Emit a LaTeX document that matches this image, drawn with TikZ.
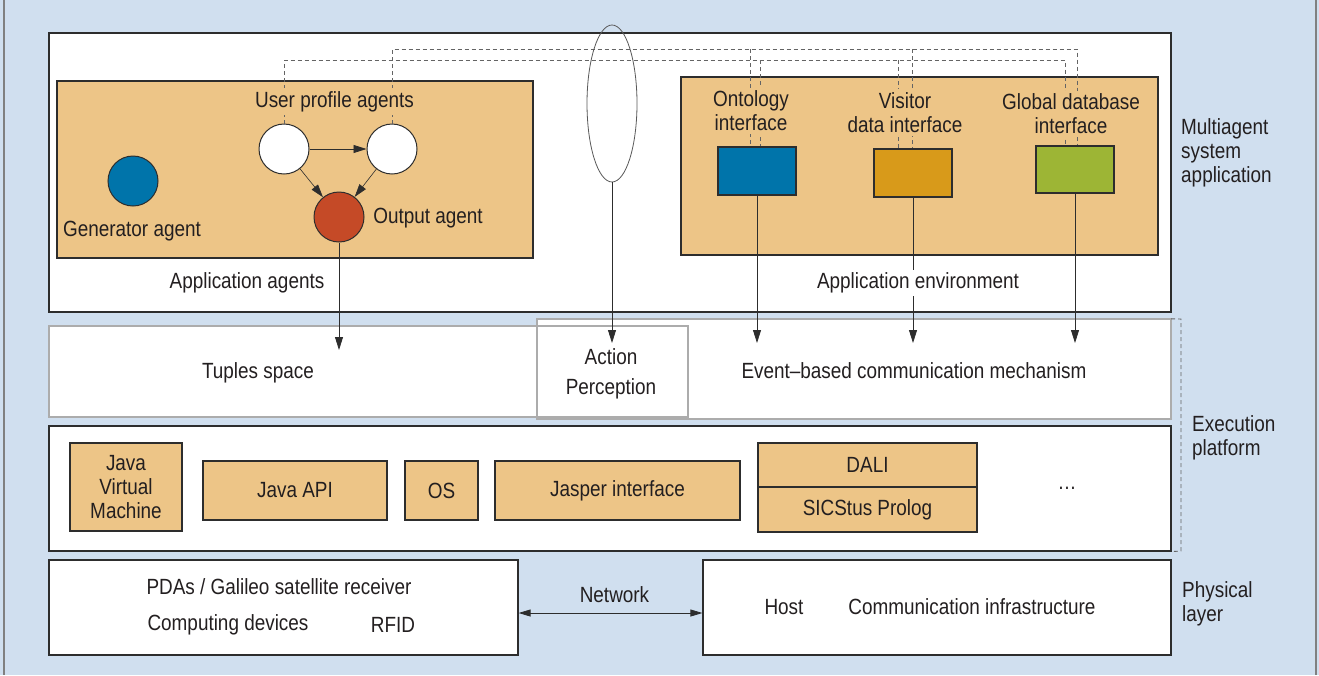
\documentclass[tikz,border=0pt]{standalone}
\usepackage{fontspec}
\setmainfont{Liberation Sans}[FakeStretch=0.86]
\usetikzlibrary{arrows.meta,shapes.geometric,calc}
\definecolor{bgblue}{RGB}{208,223,239}
\definecolor{tanc}{RGB}{237,197,135}
\definecolor{ontc}{RGB}{0,116,170}
\definecolor{redc}{RGB}{197,74,39}
\definecolor{visc}{RGB}{216,154,26}
\definecolor{grnc}{RGB}{157,181,53}
\definecolor{txt}{RGB}{35,31,32}
\definecolor{dark}{RGB}{45,45,45}
\definecolor{midgrey}{RGB}{172,172,172}
\definecolor{dashgrey}{RGB}{100,100,100}
\begin{document}
\begin{tikzpicture}[x=1pt,y=-1pt,
  every node/.style={font=\fontsize{22}{24}\selectfont, text=txt, inner sep=0pt},
  layerbox/.style={draw=dark, line width=1.2pt, fill=white, rectangle},
  midbox/.style={draw=none, fill=white, rectangle},
  midline/.style={draw=midgrey, line width=1.5pt},
  tanbox/.style={draw=dark, line width=1.2pt, fill=tanc, rectangle},
  colbox/.style={draw=dark, line width=1.2pt, rectangle, minimum width=78pt, minimum height=48pt},
  agent/.style={circle, draw=dark, line width=1pt, minimum size=50pt},
  dashline/.style={draw=dashgrey, line width=0.9pt, dash pattern=on 4pt off 3pt},
  arr/.style={draw=dark, line width=0.8pt, -{Triangle[length=13pt,width=8pt]}},
  darr/.style={draw=dark, line width=0.8pt, {Triangle[length=12pt,width=7pt]}-{Triangle[length=12pt,width=7pt]}},
  lab/.style={align=center},
  masktan/.style={align=center, fill=tanc, inner sep=3pt},
  maskwhite/.style={align=center, fill=white, inner sep=3pt}
]
\useasboundingbox (0,0) rectangle (1319,675);
\fill[bgblue] (0,0) rectangle (1319,675);
\draw[draw=gray, line width=1.2pt] (4,0) -- (4,675);
\draw[draw=gray, line width=1.2pt] (1316,0) -- (1316,675);

% ---------- Multiagent system application layer ----------
\node[layerbox, minimum width=1122pt, minimum height=279pt] (mas) at (610,172.5) {};
\node[tanbox, minimum width=476pt, minimum height=177pt] (agbox) at (295,169.5) {};
\node[tanbox, minimum width=477pt, minimum height=178pt] (envbox) at (919.5,166) {};

% interface boxes
\node[colbox, fill=ontc] (ont) at (757,171) {};
\node[colbox, fill=visc] (vis) at (913,173) {};
\node[colbox, fill=grnc, minimum height=47pt] (glob) at (1075,169.5) {};

% agents
\node[agent, fill=white] (upL) at (284,149) {};
\node[agent, fill=white] (upR) at (392,149) {};
\node[agent, fill=redc] (outA) at (339,217) {};
\node[agent, fill=ontc] (gen) at (133,181) {};

% dashed links
\coordinate (u0) at (392,49);
\coordinate (u3) at (1077,49);
\coordinate (uA) at (750,49);
\coordinate (uB) at (912,49);
\coordinate (l0) at (284,60);
\coordinate (l3) at (1065,60);
\coordinate (lA) at (760,60);
\coordinate (lB) at (898,60);
\draw[dashline] (upR.north) -- (u0) -- (u3) -- (u3 |- glob.north);
\draw[dashline] (uA) -- (uA |- ont.north);
\draw[dashline] (uB) -- (uB |- vis.north);
\draw[dashline] (upL.north) -- (l0) -- (l3) -- (l3 |- glob.north);
\draw[dashline] (lA) -- (lA |- ont.north);
\draw[dashline] (lB) -- (lB |- vis.north);

% ellipse
\node[ellipse, draw=gray!70!black, line width=0.8pt, minimum width=50pt, minimum height=157pt] (ell) at (612,103.5) {};

% labels in top layer
\node[masktan] (upLab) at (334.5,101.5) {User profile agents};
\node[lab] (outLab) at (428,218) {Output agent};
\node[lab] (genLab) at (132,231) {Generator agent};
\node[lab] (agLab) at (247,283) {Application agents};
\node[masktan] (ontLab) at (751,111) {Ontology\\interface};
\node[masktan] (visLab) at (905,112.5) {Visitor\\data interface};
\node[masktan] (globLab) at (1071,114) {Global database\\interface};

% agent arrows
\draw[arr, line width=0.7pt] (upL) -- (upR);
\draw[arr, line width=0.6pt] (upL) -- (outA);
\draw[arr, line width=0.6pt] (upR) -- (outA);

% ---------- middle layer ----------
\node[midbox, minimum width=639pt, minimum height=91pt] (tup) at (368.5,371.5) {};
\node[midbox, minimum width=634pt, minimum height=100pt] (evt) at (854,369) {};
\draw[midline] (tup.north west) rectangle (tup.south east);
\draw[midline] (evt.north west) rectangle (evt.south east);
\node[lab] (tupLab) at (258,373) {Tuples space};
\node[lab] (actLab) at (611,357) {Action};
\node[lab] (perLab) at (611,389) {Perception};
\node[lab] (evtLab) at (914,371) {Event–based communication mechanism};

% arrows down to middle layer
\coordinate (tT) at (339,350);
\coordinate (tA) at (612,343);
\draw[arr] (outA.south) -- (tT);
\draw[arr] (ell.south) -- (tA);
\draw[arr] (ont.south) -- (ont.south |- tA);
\draw[arr] (glob.south) -- (glob.south |- tA);
\draw[arr] (vis.south) -- (vis.south |- tA);
\node[maskwhite] (envLab) at (918,283) {Application environment};

% ---------- execution platform ----------
\node[layerbox, minimum width=1122pt, minimum height=125pt] (exe) at (610,488.5) {};
\node[tanbox, minimum width=112pt, minimum height=88pt, align=center] (jvm) at (126,487) {Java\\Virtual\\Machine};
\node[tanbox, minimum width=184pt, minimum height=59pt] (japi) at (295,490.5) {Java API};
\node[tanbox, minimum width=73pt, minimum height=59pt] (os) at (441.5,490.5) {OS};
\node[tanbox, minimum width=245pt, minimum height=59pt] (jasper) at (617.5,490.5) {Jasper interface};
\node[tanbox, minimum width=219pt, minimum height=44pt] (dali) at (867.5,465) {DALI};
\node[tanbox, minimum width=219pt, minimum height=45pt] (sics) at (867.5,509.5) {SICStus Prolog};
\node[lab] (dots) at (1067,488) {\dots};

% dashed bracket
\coordinate (bA) at (1181,319);
\coordinate (bB) at (1181,551);
\draw[dashline] (evt.north east) -- (bA) -- (bB) -- (exe.south east);

% ---------- physical layer ----------
\node[layerbox, minimum width=469pt, minimum height=95pt] (phL) at (283.5,607.5) {};
\node[layerbox, minimum width=468pt, minimum height=95pt] (phR) at (937,607.5) {};
\node[lab] (pdaLab) at (279,587) {PDAs / Galileo satellite receiver};
\node[lab] (cdLab) at (228,625) {Computing devices};
\node[lab] (rfLab) at (393,625) {RFID};
\node[lab] (hostLab) at (784,607) {Host};
\node[lab] (ciLab) at (972,607) {Communication infrastructure};
\draw[darr] ([yshift=-5.5pt]phL.east) -- ([yshift=-5.5pt]phR.west);
\node[lab] (netLab) at (614.5,595) {Network};

% ---------- side labels ----------
\node[anchor=west, align=left] (masLab) at (1181,153) {Multiagent\\system\\application};
\node[anchor=west, align=left] (exeLab) at (1192,437.5) {Execution\\platform};
\node[anchor=west, align=left] (phyLab) at (1182,603.5) {Physical\\layer};
\end{tikzpicture}
\end{document}
